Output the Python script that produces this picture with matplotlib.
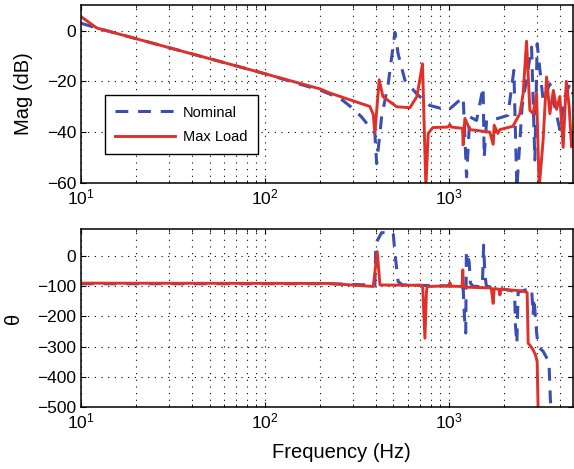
import numpy as np
import matplotlib
matplotlib.use('Agg')
from matplotlib import pyplot as plt

plt.rcParams['font.family'] = ['Liberation Sans', 'DejaVu Sans']
plt.rcParams['mathtext.fontset'] = 'custom'
plt.rcParams['mathtext.rm'] = 'Liberation Sans'
plt.rcParams['mathtext.it'] = 'Liberation Sans:italic'

# magnitude (dB)
nom_mag_f = [10, 12.2, 100, 200, 225, 265, 301, 335, 396, 405, 431, 468, 509, 530, 577,
             668, 788, 991, 1196, 1248, 1300, 1414, 1535, 1556, 1603, 1847, 2093, 2256,
             2342, 2500, 2816, 2934, 3020, 3254, 3540, 4011, 4270, 4546, 4720]
nom_mag = [2.9, 1.0, -17, -23.5, -25, -27.5, -30.7, -34, -40.5, -52.4, -34, -21, -0.7, -9.2, -19.6,
           -24.9, -29.5, -31.4, -26.2, -57.6, -34, -35.4, -22.3, -50, -35.4, -34.6, -33.4, -15.7,
           -62, -30, -6.5, -51, -5.2, -27.5, -21, -39, -26, -21, -25]

max_mag_f = [10, 12.2, 100, 200, 225, 372, 388, 396, 418, 438, 520, 614, 670, 719, 750,
             772, 818, 990, 1013, 1030, 1187, 1196, 1222, 1300, 1670, 1741, 1763, 1847, 1894,
             2228, 2432, 2534, 2644, 2756, 2872, 2997, 3096, 3254, 3396, 3540, 3700, 3848,
             4011, 4180, 4350, 4506, 4644, 4720]
max_mag = [5.5, 1.0, -17, -23, -24.6, -29.9, -33, -40.5, -19.4, -26, -30, -30.4, -26, -13.1, -62,
           -40.5, -38.2, -38, -37, -38, -38.5, -45, -34.6, -39, -40, -44.8, -37.3, -40.5, -39,
           -37.7, -32.7, -24.8, -4.2, -31.4, -32.7, -24.8, -62, -43, -18.3, -32.7, -23.6, -31,
           -26, -46, -20, -30, -45.8, -40]

# phase (deg)
nom_ph_f = [10, 225, 372, 396, 401, 431, 498, 509, 530, 560, 1150, 1196, 1215, 1235, 1245,
            1289, 1310, 1350, 1520, 1545, 1570, 1600, 2200, 2256, 2284, 2300, 2342, 2380,
            2816, 2870, 2900, 3000, 3060, 3250, 3500, 3560, 3600]
nom_ph = [-92, -92, -96, -100, 42, 77, 77, 10, -85, -96, -100, -105, -200, -255, 15,
          -20, -90, -100, -102, 36, -63, -100, -115, -120, -152, -228, -290, -120,
          -106, -195, -139, -255, -301, -315, -351, -470, -520]

max_ph_f = [10, 225, 388, 408, 422, 695, 720, 741, 755, 762, 1000, 1013, 1025, 1180, 1190,
            1200, 1700, 1741, 1763, 1870, 1894, 1920, 2432, 2588, 2664, 2698, 2756, 2872,
            2960, 3020, 3058]
max_ph = [-90, -91, -101, 14, -96, -97, -98, -272, -120, -101, -99, -88, -100, -101, -46,
          -103, -106, -157, -108, -110, -129, -110, -115, -118, -121, -289, -295, -311,
          -328, -350, -520]

red = '#e0302a'
blue = '#3a4fb0'

fig = plt.figure(figsize=(5.74, 4.69), dpi=100)
ax1 = fig.add_axes([0.141, 0.610, 0.857, 0.379])
ax2 = fig.add_axes([0.141, 0.132, 0.857, 0.379])

ax1.semilogx(nom_mag_f, nom_mag, color=blue, lw=2.2, dashes=(4.2, 3.2), label='Nominal')
ax1.semilogx(max_mag_f, max_mag, color=red, lw=2.1, label='Max Load')
ax2.semilogx(nom_ph_f, nom_ph, color=blue, lw=2.2, dashes=(4.2, 3.2))
ax2.semilogx(max_ph_f, max_ph, color=red, lw=2.1)

ax1.set_ylim(-60, 10)
ax1.set_yticks([-60, -40, -20, 0])
ax2.set_ylim(-500, 88)
ax2.set_yticks(range(-500, 1, 100))

for ax in (ax1, ax2):
    ax.set_xlim(10, 4720)
    ax.grid(True, which='major', axis='both', color='k', linestyle=(0, (1, 5)), lw=0.8)
    ax.grid(True, which='minor', axis='x', color='k', linestyle=(0, (1, 5)), lw=0.8)
    ax.tick_params(which='both', direction='in', top=True, right=True, labelsize=12.5)
    for s in ax.spines.values():
        s.set_linewidth(1.1)

ax1.set_ylabel('Mag (dB)', fontsize=14.5, labelpad=10)
ax2.set_ylabel('θ', fontsize=14.5, labelpad=10)
ax2.set_xlabel('Frequency (Hz)', fontsize=14.5, labelpad=5)
ax2.xaxis.set_label_coords(0.53, -0.2)

leg = ax1.legend(loc='lower left', bbox_to_anchor=(0.049, 0.163), borderaxespad=0,
                 fontsize=10.5, fancybox=False, edgecolor='k', framealpha=1,
                 handlelength=4.1, handletextpad=0.55, borderpad=0.7, labelspacing=0.7)
leg.get_frame().set_linewidth(1.0)

fig.savefig('out.png', dpi=100)
